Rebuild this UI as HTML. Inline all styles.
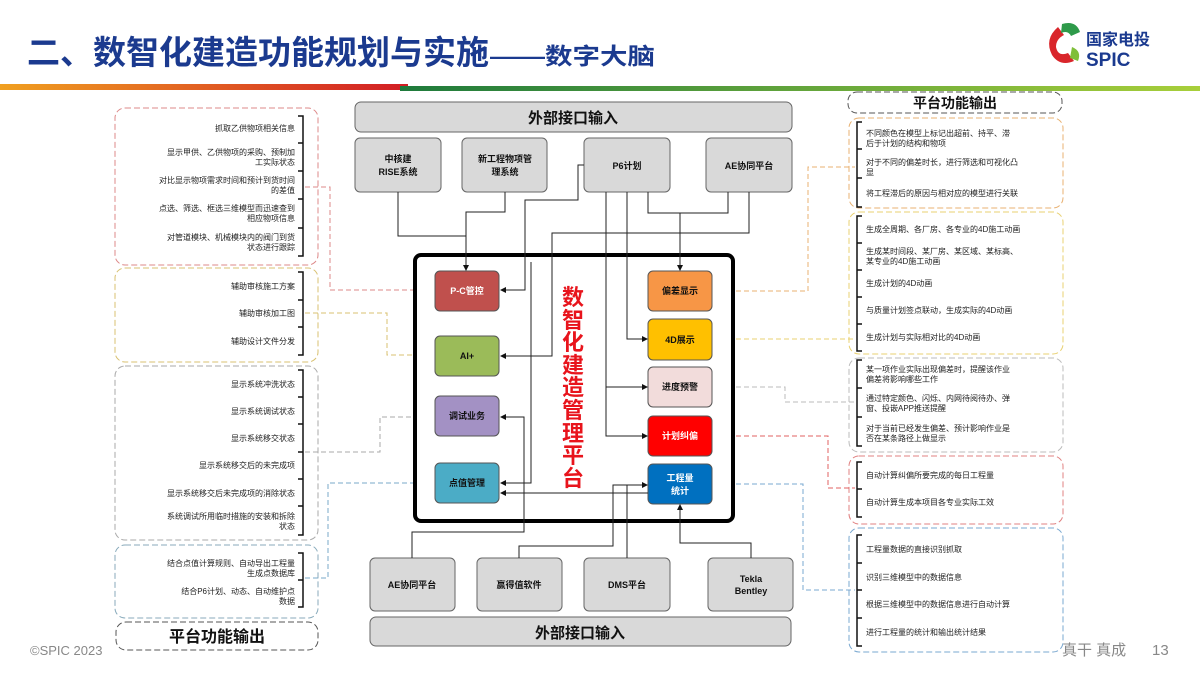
<!DOCTYPE html>
<html><head><meta charset="utf-8"><style>
html,body{margin:0;padding:0;background:#fff;width:1200px;height:675px;overflow:hidden}
svg{display:block}
text{font-family:"Liberation Sans","Noto Sans CJK SC",sans-serif}
.t{font-size:8px;fill:#222}
</style></head><body>
<svg width="1200" height="675" viewBox="0 0 1200 675" xmlns="http://www.w3.org/2000/svg">
<defs>
<linearGradient id="gl" x1="0" x2="1"><stop offset="0" stop-color="#f0a020"/><stop offset="1" stop-color="#d21d24"/></linearGradient>
<linearGradient id="gr" x1="0" x2="1"><stop offset="0" stop-color="#1e7a3c"/><stop offset="1" stop-color="#a8cf3a"/></linearGradient>
<marker id="a" markerWidth="6" markerHeight="6" refX="5" refY="3" orient="auto"><path d="M0,0 L6,3 L0,6z" fill="#111"/></marker>
</defs>
<!-- header -->
<text x="27" y="64" font-size="33" font-weight="bold" fill="#1b3a8f" textLength="462" lengthAdjust="spacingAndGlyphs">二、数智化建造功能规划与实施</text>
<text x="490" y="64" font-size="23" font-weight="bold" fill="#1b3a8f" textLength="165" lengthAdjust="spacingAndGlyphs">——数字大脑</text>
<rect x="0" y="84" width="408" height="6" fill="url(#gl)"/>
<rect x="400" y="86" width="800" height="5" fill="url(#gr)"/>
<path d="M1058,27 q-14,12 -6,28 q8,12 22,6 l-6,-8 q-10,4 -12,-6 q0,-8 8,-12z" fill="#d9262b"/>
<path d="M1062,24 q14,-4 18,8 l-9,4 q-3,-6 -10,-3z" fill="#2e9a4a"/>
<path d="M1072,47 q10,4 6,14 l-8,-3z" fill="#7fbf3a"/>
<text x="1086" y="45" font-size="16" font-weight="bold" fill="#1b3a8f">国家电投</text>
<text x="1086" y="66" font-size="19" font-weight="bold" fill="#1b3a8f">SPIC</text>
<!-- footer -->
<text x="30" y="655" font-size="13" fill="#888">©SPIC 2023</text>
<text x="1062" y="655" font-size="15" fill="#888">真干 真成</text>
<text x="1152" y="655" font-size="15" fill="#888">13</text>

<!-- left panels -->
<g fill="#fff" stroke-width="1" stroke-dasharray="6,3">
<rect x="115" y="108" width="203" height="157" rx="10" stroke="#d88"/>
<rect x="115" y="268" width="203" height="94" rx="10" stroke="#d8c070"/>
<rect x="115" y="366" width="203" height="174" rx="10" stroke="#aaa"/>
<rect x="115" y="545" width="203" height="73" rx="10" stroke="#8ab"/>
<rect x="116" y="622" width="202" height="28" rx="10" stroke="#555"/>
<rect x="848" y="92" width="214" height="21" rx="9" stroke="#555"/>
<rect x="849" y="118" width="214" height="90" rx="10" stroke="#e8b070"/>
<rect x="849" y="212" width="214" height="142" rx="10" stroke="#e8d070"/>
<rect x="849" y="358" width="214" height="94" rx="10" stroke="#bbb"/>
<rect x="849" y="456" width="214" height="68" rx="10" stroke="#e08080"/>
<rect x="849" y="528" width="214" height="124" rx="10" stroke="#7aa8d0"/>
</g>
<text x="217" y="642" font-size="16" font-weight="bold" text-anchor="middle" fill="#111">平台功能输出</text>
<text x="955" y="108" font-size="14" font-weight="bold" text-anchor="middle" fill="#111">平台功能输出</text>

<!-- brackets -->
<g stroke="#111" stroke-width="1.5" fill="none">
<path d="M298,116H303V256H298M298,143H303M298,171H303M298,199H303M298,228H303"/>
<path d="M298,272H303V355H298M298,300H303M298,327H303"/>
<path d="M298,370H303V535H298M298,397H303M298,424H303M298,452H303M298,479H303M298,506H303"/>
<path d="M298,553H303V607H298M298,580H303"/>
<path d="M862,122H857V207H862M857,149H862M857,178H862"/>
<path d="M862,216H857V351H862M857,243H862M857,270H862M857,297H862M857,324H862"/>
<path d="M862,360H857V446H862M857,388H862M857,417H862"/>
<path d="M862,462H857V517H862M857,489H862"/>
<path d="M862,535H857V646H862M857,563H862M857,590H862M857,618H862"/>
</g>
<g class="t" text-anchor="end">
<text x="295" y="131">抓取乙供物项相关信息</text>
<text x="295" y="155">显示甲供、乙供物项的采购、预制加</text><text x="295" y="165">工实际状态</text>
<text x="295" y="183">对比显示物项需求时间和预计到货时间</text><text x="295" y="193">的差值</text>
<text x="295" y="211">点选、筛选、框选三维模型而迅速查到</text><text x="295" y="221">相应物项信息</text>
<text x="295" y="240">对管道模块、机械模块内的阀门到货</text><text x="295" y="250">状态进行跟踪</text>
<text x="295" y="289">辅助审核施工方案</text>
<text x="295" y="316">辅助审核加工图</text>
<text x="295" y="344">辅助设计文件分发</text>
<text x="295" y="387">显示系统冲洗状态</text>
<text x="295" y="414">显示系统调试状态</text>
<text x="295" y="441">显示系统移交状态</text>
<text x="295" y="468">显示系统移交后的未完成项</text>
<text x="295" y="496">显示系统移交后未完成项的消除状态</text>
<text x="295" y="519">系统调试所用临时措施的安装和拆除</text><text x="295" y="529">状态</text>
<text x="295" y="566">结合点值计算规则、自动导出工程量</text><text x="295" y="576">生成点数据库</text>
<text x="295" y="594">结合P6计划、动态、自动维护点</text><text x="295" y="604">数据</text>
</g>
<g class="t">
<text x="866" y="136">不同颜色在模型上标记出超前、持平、滞</text><text x="866" y="146">后于计划的结构和物项</text>
<text x="866" y="165">对于不同的偏差时长，进行筛选和可视化凸</text><text x="866" y="175">显</text>
<text x="866" y="196">将工程滞后的原因与相对应的模型进行关联</text>
<text x="866" y="232">生成全周期、各厂房、各专业的4D施工动画</text>
<text x="866" y="254">生成某时间段、某厂房、某区域、某标高、</text><text x="866" y="264">某专业的4D施工动画</text>
<text x="866" y="286">生成计划的4D动画</text>
<text x="866" y="313">与质量计划签点联动，生成实际的4D动画</text>
<text x="866" y="340">生成计划与实际相对比的4D动画</text>
<text x="866" y="372">某一项作业实际出现偏差时，提醒该作业</text><text x="866" y="382">偏差将影响哪些工作</text>
<text x="866" y="401">通过特定颜色、闪烁、内网待阅待办、弹</text><text x="866" y="411">窗、投嵌APP推送提醒</text>
<text x="866" y="431">对于当前已经发生偏差、预计影响作业是</text><text x="866" y="441">否在某条路径上做显示</text>
<text x="866" y="478">自动计算纠偏所要完成的每日工程量</text>
<text x="866" y="505">自动计算生成本项目各专业实际工效</text>
<text x="866" y="552">工程量数据的直接识别抓取</text>
<text x="866" y="580">识别三维模型中的数据信息</text>
<text x="866" y="607">根据三维模型中的数据信息进行自动计算</text>
<text x="866" y="635">进行工程量的统计和输出统计结果</text>
</g>

<!-- dashed side connectors -->
<g fill="none" stroke-width="1" stroke-dasharray="5,3">
<path d="M305,187H330V290H435" stroke="#d88"/>
<path d="M305,313H387V355H435" stroke="#d8c070"/>
<path d="M305,452H380V417H435" stroke="#aaa"/>
<path d="M305,578H328V483H435" stroke="#7aa8c8"/>
<path d="M712,291H808V167H855" stroke="#e8b070"/>
<path d="M712,339H855" stroke="#e8d070"/>
<path d="M712,387H785V402H855" stroke="#bbb"/>
<path d="M712,436H828V488H855" stroke="#e06060"/>
<path d="M712,484H803V590H855" stroke="#7aa8d0"/>
</g>

<!-- main box -->
<rect x="415" y="255" width="318" height="266" rx="6" fill="#fff" stroke="#000" stroke-width="4"/>
<g font-size="22" font-weight="bold" fill="#e8141c" text-anchor="middle">
<text x="573" y="305">数</text><text x="573" y="328">智</text><text x="573" y="350">化</text><text x="573" y="373">建</text><text x="573" y="395">造</text><text x="573" y="418">管</text><text x="573" y="441">理</text><text x="573" y="463">平</text><text x="573" y="486">台</text>
</g>

<!-- gray boxes -->
<g fill="#d9d9d9" stroke="#666" stroke-width="1">
<rect x="355" y="102" width="437" height="30" rx="6"/>
<rect x="355" y="138" width="86" height="54" rx="5"/>
<rect x="462" y="138" width="85" height="54" rx="5"/>
<rect x="584" y="138" width="86" height="54" rx="5"/>
<rect x="706" y="138" width="86" height="54" rx="5"/>
<rect x="370" y="558" width="85" height="53" rx="5"/>
<rect x="477" y="558" width="85" height="53" rx="5"/>
<rect x="584" y="558" width="86" height="53" rx="5"/>
<rect x="708" y="558" width="85" height="53" rx="5"/>
<rect x="370" y="617" width="421" height="29" rx="6"/>
</g>
<g font-weight="bold" text-anchor="middle" fill="#111">
<text x="573" y="123" font-size="15">外部接口输入</text>
<text x="580" y="638" font-size="15">外部接口输入</text>
<g font-size="9">
<text x="398" y="162">中核建</text><text x="398" y="175">RISE系统</text>
<text x="505" y="162">新工程物项管</text><text x="505" y="175">理系统</text>
<text x="627" y="169">P6计划</text>
<text x="749" y="169">AE协同平台</text>
<text x="412" y="588">AE协同平台</text>
<text x="519" y="588">赢得值软件</text>
<text x="627" y="588">DMS平台</text>
<text x="751" y="582" font-family="Liberation Mono">Tekla</text><text x="751" y="594" font-family="Liberation Mono">Bentley</text>
</g></g>

<!-- inner boxes -->
<g stroke="#555" stroke-width="1">
<rect x="435" y="271" width="64" height="40" rx="5" fill="#c0504d"/>
<rect x="435" y="336" width="64" height="40" rx="5" fill="#9bbb59"/>
<rect x="435" y="396" width="64" height="40" rx="5" fill="#a391c4"/>
<rect x="435" y="463" width="64" height="40" rx="5" fill="#4bacc6"/>
<rect x="648" y="271" width="64" height="40" rx="5" fill="#f79646"/>
<rect x="648" y="319" width="64" height="41" rx="5" fill="#ffc000"/>
<rect x="648" y="367" width="64" height="40" rx="5" fill="#f2dcdb"/>
<rect x="648" y="416" width="64" height="40" rx="5" fill="#ff0000"/>
<rect x="648" y="464" width="64" height="40" rx="5" fill="#0070c0"/>
</g>
<g font-size="9" font-weight="bold" text-anchor="middle">
<text x="467" y="294" fill="#fff">P-C管控</text>
<text x="467" y="359" fill="#111">AI+</text>
<text x="467" y="419" fill="#111">调试业务</text>
<text x="467" y="486" fill="#111">点值管理</text>
<text x="680" y="294" fill="#111">偏差显示</text>
<text x="680" y="343" fill="#111">4D展示</text>
<text x="680" y="390" fill="#111">进度预警</text>
<text x="680" y="439" fill="#fff">计划纠偏</text>
<text x="680" y="481" fill="#fff">工程量</text><text x="680" y="494" fill="#fff">统计</text>
</g>

<!-- connectors -->
<g fill="none" stroke="#222" stroke-width="1">
<path d="M398,192V236H466V270" marker-end="url(#a)"/>
<path d="M505,192V212H466V236"/>
<path d="M584,165H578V200H525V290H501" marker-end="url(#a)"/>
<path d="M648,192V213H728V192"/>
<path d="M680,213V270" marker-end="url(#a)"/>
<path d="M749,192V233H552V356H501" marker-end="url(#a)"/>
<path d="M627,192V339H647" marker-end="url(#a)"/>
<path d="M606,192V436H647" marker-end="url(#a)"/>
<path d="M606,387H647" marker-end="url(#a)"/>
<path d="M531,262V483H501" marker-end="url(#a)"/>
<path d="M412,558V532H524V417H501" marker-end="url(#a)"/>
<path d="M519,558V546H613V485H647" marker-end="url(#a)"/>
<path d="M627,558V485"/>
<path d="M751,558V543H680V505" marker-end="url(#a)"/>
<path d="M648,493H501" marker-end="url(#a)"/>
</g>
</svg>
</body></html>
